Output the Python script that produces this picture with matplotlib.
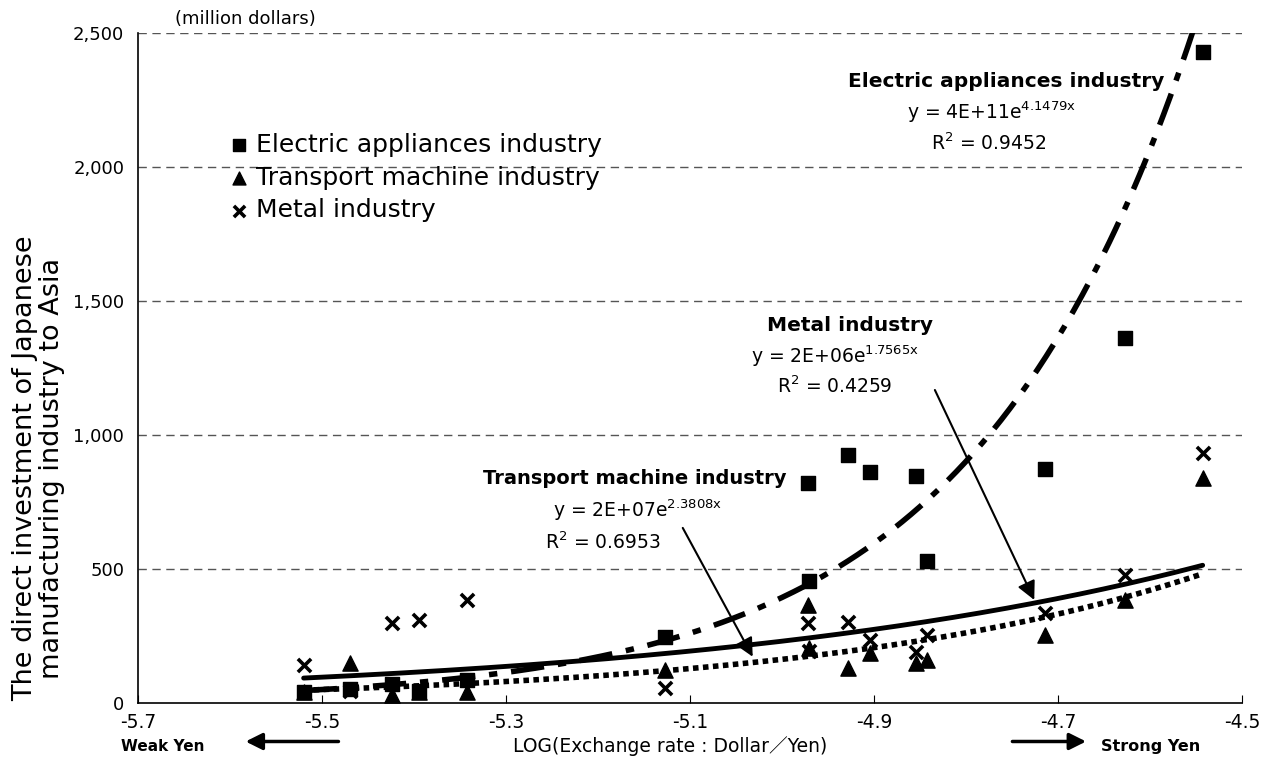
import numpy as np
import matplotlib
matplotlib.use("Agg")
import matplotlib.pyplot as plt

plt.rcParams['font.family'] = ['DejaVu Sans', 'Noto Sans CJK JP']

# LOG(exchange rate), one value per year
log_rate = [-5.52, -5.47, -5.424, -5.395, -5.343, -5.127, -4.972, -4.971,
            -4.928, -4.904, -4.855, -4.843, -4.714, -4.627, -4.543]
electric = [42, 50, 72, 45, 85, 247, 820, 456, 925, 863, 845, 531, 873, 1361, 2430]
transport = [40, 150, 30, 40, 42, 123, 366, 204, 129, 185, 148, 160, 254, 384, 838]
metal = [142, 45, 298, 310, 382, 56, 297, 195, 303, 235, 191, 254, 335, 478, 934]

# exponential trend lines y = a * exp(b * x)
fit_electric = (4.0e11, 4.1479)
fit_transport = (2.4e7, 2.3808)
fit_metal = (1.5e6, 1.7565)

yticks = [0, 500, 1000, 1500, 2000, 2500]
xticks = [-5.7, -5.5, -5.3, -5.1, -4.9, -4.7, -4.5]

fig = plt.figure(figsize=(12.78, 7.74), dpi=100)
ax = fig.add_axes([0.108, 0.092, 0.864, 0.865])

xs = np.linspace(min(log_rate), max(log_rate), 300)
a, b = fit_electric
ax.plot(xs, a * np.exp(b * xs), color='black', lw=4, dashes=(6, 2.5, 1.5, 2.5), zorder=2)
a, b = fit_metal
ax.plot(xs, a * np.exp(b * xs), color='black', lw=3.5, solid_capstyle='round', zorder=2)
a, b = fit_transport
ax.plot(xs, a * np.exp(b * xs), color='black', lw=4, dashes=(1.0, 0.8), zorder=2)

ax.scatter(log_rate, electric, marker='s', s=95, color='black', zorder=3,
           label='Electric appliances industry')
ax.scatter(log_rate, transport, marker='^', s=120, color='black', zorder=3,
           label='Transport machine industry')
ax.scatter(log_rate, metal, marker='x', s=90, color='black', linewidths=2.6, zorder=3,
           label='Metal industry')

ax.set_xlim(-5.7, -4.5)
ax.set_ylim(0, 2500)
ax.set_yticks(yticks)
ax.set_yticklabels([f"{v:,}" for v in yticks], fontsize=13)
ax.set_xticks(xticks)
ax.set_xticklabels([f"{v:.1f}" for v in xticks], fontsize=13.5)
ax.tick_params(axis='x', direction='in', length=6, pad=7)
ax.tick_params(axis='y', length=0, pad=10)
for v in yticks[1:]:
    ax.axhline(v, color='#555555', lw=1, dashes=(6, 4), zorder=1)
ax.spines['top'].set_visible(False)
ax.spines['right'].set_visible(False)
ax.spines['left'].set_linewidth(1.2)
ax.spines['bottom'].set_linewidth(1.2)

leg = ax.legend(loc='upper left', bbox_to_anchor=(0.06, 0.885), frameon=False,
                fontsize=18, handletextpad=0.15, labelspacing=0.35,
                handlelength=1.0, markerscale=0.85)

# trend line annotations
ax.text(-4.757, 2321, 'Electric appliances industry', ha='center', va='center',
        fontsize=14.5, fontweight='bold')
ax.text(-4.772, 2205, r'y = 4E+11e$^{\mathrm{4.1479x}}$', ha='center', va='center', fontsize=13.5)
ax.text(-4.775, 2089, r'R$^{\mathrm{2}}$ = 0.9452', ha='center', va='center', fontsize=13.5)

ax.text(-4.926, 1410, 'Metal industry', ha='center', va='center',
        fontsize=14.5, fontweight='bold')
ax.text(-4.943, 1295, r'y = 2E+06e$^{\mathrm{1.7565x}}$', ha='center', va='center', fontsize=13.5)
ax.text(-4.943, 1183, r'R$^{\mathrm{2}}$ = 0.4259', ha='center', va='center', fontsize=13.5)
ax.annotate('', xy=(-4.726, 384), xytext=(-4.834, 1168),
            arrowprops=dict(arrowstyle='-|>', color='black', lw=1.5,
                            mutation_scale=28, shrinkA=0, shrinkB=0))

ax.text(-5.16, 839, 'Transport machine industry', ha='center', va='center',
        fontsize=14, fontweight='bold')
ax.text(-5.157, 720, r'y = 2E+07e$^{\mathrm{2.3808x}}$', ha='center', va='center', fontsize=13.5)
ax.text(-5.195, 601, r'R$^{\mathrm{2}}$ = 0.6953', ha='center', va='center', fontsize=13.5)
ax.annotate('', xy=(-5.032, 172), xytext=(-5.108, 653),
            arrowprops=dict(arrowstyle='-|>', color='black', lw=1.5,
                            mutation_scale=28, shrinkA=0, shrinkB=0))

fig.text(0.137, 0.976, '(million dollars)', ha='left', va='center', fontsize=13)
fig.text(0.03, 0.395, 'The direct investment of Japanese\nmanufacturing industry to Asia',
         rotation=90, ha='center', va='center', fontsize=19.5, linespacing=1.05)

fig.text(0.127, 0.036, 'Weak Yen', ha='center', va='center', fontsize=11,
         fontweight='bold')
fig.text(0.524, 0.036, 'LOG(Exchange rate : Dollar／Yen)', ha='center', va='center',
         fontsize=13.5)
fig.text(0.9, 0.036, 'Strong Yen', ha='center', va='center', fontsize=11.5,
         fontweight='bold')
fig.add_artist(matplotlib.patches.FancyArrowPatch(
    (0.267, 0.042), (0.19, 0.042), transform=fig.transFigure, arrowstyle='-|>',
    mutation_scale=25, lw=2.5, color='black'))
fig.add_artist(matplotlib.patches.FancyArrowPatch(
    (0.79, 0.042), (0.852, 0.042), transform=fig.transFigure, arrowstyle='-|>',
    mutation_scale=25, lw=2.5, color='black'))

fig.savefig('out.png', dpi=100)
